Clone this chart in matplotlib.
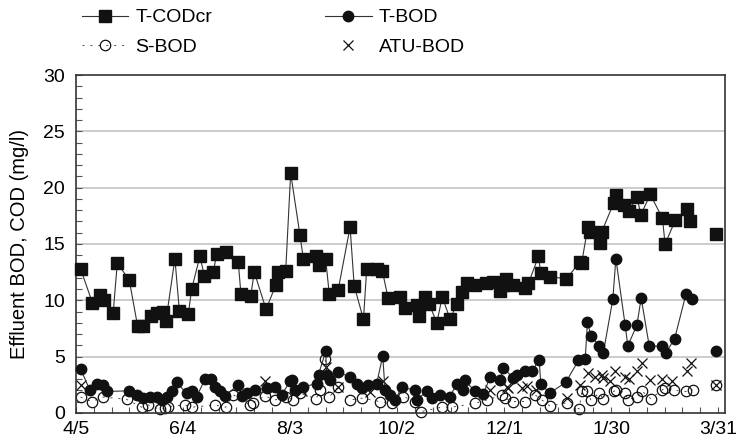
import numpy as np
from matplotlib import pyplot as plt
from matplotlib.ticker import MultipleLocator

plt.rcParams['font.family'] = ['Liberation Sans', 'DejaVu Sans']
plt.rcParams['font.size'] = 14

nan = np.nan

# x values are days counted from 4/5
tick_days = [0, 60, 120, 180, 240, 300, 360]
tick_labels = ['4/5', '6/4', '8/3', '10/2', '12/1', '1/30', '3/31']

# T-CODcr
cod_days = [2.6, 9.2, 13.5, 15.9, 20.9, 23.2, 29.9, 34.6, 37.8, 41.9, 45.2, 49, 50.5, 55.5, 58,
            63, 64.9, 69.5, 72, 77, 78.9, 84, 91, 92.5, 98, 100, 106.6, 112.2, 113.5, 117.6,
            120.4, 125.6, 127.5, 134.6, 136.5, 140, 142, 147, 153.7, 156, 161.2, 163, 168.6, 171.8, 175,
            181.7, 184.5, 191, 192.6, 195.7, 198, 202.3, 205.4, 209.8, 213.5, 216.7, 219, 223.8, 230, 234,
            237.8, 239.7, 241, 245, 251.8, 253.7, 259.3, 260.6, 265.8, 274.8, 282.7, 283.5, 287, 288.3, 293.9,
            294.8, 301.4, 302.7, 307.4, 309.8, 314.5, 316.7, 322, 328.8, 330.3, 336, 342.8, 344.4, 350, 359]
cod_vals = [12.8, 9.8, 10.5, 10.0, 8.9, 13.3, 11.8, 7.7, 7.7, 8.6, 8.9, 9.0, 8.2, 13.7, 9.05,
            8.75, 11.0, 13.9, 12.2, 12.5, 14.1, 14.3, 13.4, 10.6, 10.4, 12.5, 9.2, 11.4, 12.5, 12.6,
            21.3, 15.8, 13.7, 13.9, 13.1, 13.7, 10.6, 10.9, 16.5, 11.3, 8.3, 12.75, 12.75, 12.6, 10.2,
            10.3, 9.35, 9.6, 8.6, 10.3, 9.7, 8.0, 10.3, 8.3, 9.7, 10.7, 11.5, 11.4, 11.5, 11.65,
            10.8, 11.4, 11.9, 11.4, 11.1, 11.5, 13.9, 12.45, 12.1, 11.9, 13.4, 13.3, 16.5, 16.1, 15.1,
            16.1, 18.6, 19.35, 18.5, 17.9, 19.2, 17.6, 19.4, 17.3, 15.0, 17.1, 18.1, 17.0, nan, 15.9]

# T-BOD
tbod_days = [2.6, 7.9, 12, 15.3, 17.2, 29.7, 34, 37.8, 41.5, 45.2, 48, 50.9, 53.7, 56.5, 62,
             64.9, 67.7, 72.4, 76, 78, 80.8, 83.6, 91, 93, 95.7, 100.4, 107, 111.6, 115.4, 120,
             121, 122.8, 127.5, 135, 136, 140, 140.6, 142.5, 147, 153.7, 157.4, 160.2, 164, 168.6, 172,
             173.3, 176, 179, 182.7, 190, 191, 196.7, 199.5, 204.2, 209.8, 213.5, 217.2, 218, 223.8, 228.4,
             232.2, 237.8, 239.7, 245, 247, 251.8, 255.6, 259.7, 260.6, 265.5, 274.6, 281.7, 285.5, 286.8, 288.7,
             293.5, 295.7, 301, 302.7, 307.9, 309.4, 314.5, 316.9, 321.4, 328.5, 330.7, 335.6, 342, 345.3, 350, 359]
tbod_vals = [3.9, 2.0, 2.6, 2.5, 1.9, 1.95, 1.6, 1.3, 1.45, 1.4, 1.15, 1.45, 1.9, 2.7, 1.75,
             1.9, 1.45, 3.0, 3.0, 2.3, 1.9, 1.5, 2.5, 1.5, 1.75, 2.05, 2.2, 2.3, 1.6, 2.8,
             2.9, 2.05, 2.3, 2.6, 3.4, 5.45, 3.4, 2.9, 3.6, 3.2, 2.6, 2.2, 2.5, 2.6, 5.05,
             2.05, 1.6, 1.15, 2.3, 2.0, 1.15, 1.9, 1.3, 1.6, 1.45, 2.6, 2.05, 2.9, 1.9, 1.7,
             3.15, 2.9, 4.0, 3.1, 3.4, 3.7, 3.7, 4.7, 2.6, 1.75, 2.7, 4.65, 4.75, 8.1, 6.8,
             5.95, 5.35, 10.1, 13.7, 7.8, 5.95, 7.8, 10.2, 5.95, 5.9, 5.35, 6.55, 10.55, 10.1, nan, 5.45]

# S-BOD
sbod_days = [2.6, 8.8, 15.3, 28.4, 36.8, 40.6, 47, 50, 51.8, 61, 64.9, 78, 84, 88.2, 97.6,
             99, 106, 111.6, 118, 121.9, 125.6, 134.6, 137, 139.7, 142, 147, 153.7, 160.2, 170.5, 177,
             183.6, 190, 193.3, 205, 210.7, 223.8, 230.4, 238.8, 240.5, 245.3, 251.8, 257.4, 261.2, 265.8, 275.2,
             282.1, 283.6, 286.4, 288.7, 293.5, 295.7, 301.4, 303, 307.9, 309.4, 314.5, 317.3, 322.3, 328.8, 330.3,
             335.4, 342, 345.7, 350, 359]
sbod_vals = [1.4, 1.0, 1.4, 1.2, 0.5, 0.7, 0.3, 0.4, 0.55, 0.7, 0.5, 0.7, 0.5, 1.6, 0.7,
             0.9, 1.5, 1.15, 1.4, 1.15, 1.75, 1.25, 2.0, 4.75, 1.4, 2.3, 1.15, 1.3, 1.0, 0.85,
             1.45, 1.0, 0.1, 0.5, 0.5, 0.85, 1.15, 1.55, 1.3, 1.0, 1.0, 1.6, 1.15, 0.6, 0.9,
             0.35, 1.9, 1.9, 1.15, 1.75, 1.25, 1.9, 2.0, 1.8, 1.15, 1.45, 1.95, 1.25, 2.05, 2.2,
             2.0, 1.9, 2.05, nan, 2.5]

# ATU-BOD
atu_days = [2.6, 106, 127, 140, 147, 165, 172.4, 232, 241.5, 242.5, 250, 252.8, 258, 275.2, 282.7,
            287.3, 291, 294.8, 295.7, 299.5, 302.3, 307.9, 309.8, 314.5, 317.3, 322, 328.8, 334.4, 342.5, 344.9, 359]
atu_vals = [2.5, 2.8, 1.9, 4.1, 2.3, 1.85, 2.8, 2.05, 2.3, 2.2, 2.2, 2.35, 2.05, 1.3, 2.5,
            3.5, 3.2, 3.4, 3.1, 2.8, 3.7, 3.15, 3.0, 3.7, 4.45, 2.95, 3.0, 2.8, 3.7, 4.4, 2.45]

fig = plt.figure(figsize=(7.37, 4.42), dpi=100)
ax = fig.add_axes([0.103, 0.066, 0.881, 0.764])

line_c = '#333333'
mk_c = '#111111'

# horizontal grid
for g in [5, 10, 15, 20, 25]:
    ax.axhline(g, color='#c8c8c8', lw=1.3, zorder=0)

h_sbod, = ax.plot(sbod_days, sbod_vals, ls=(0, (2.5, 7)), lw=0.6, color=line_c,
                  marker='o', ms=7.5, mfc='none', mec=mk_c, mew=0.9, clip_on=False, zorder=2)
h_atu, = ax.plot(atu_days, atu_vals, ls='none', marker='x', ms=6.5, mec=mk_c, mew=0.9,
                 clip_on=False, zorder=2)
h_tbod, = ax.plot(tbod_days, tbod_vals, '-', lw=0.8, color=line_c,
                  marker='o', ms=7.5, mfc=mk_c, mec=mk_c, clip_on=False, zorder=3)
h_cod, = ax.plot(cod_days, cod_vals, '-', lw=0.8, color=line_c,
                 marker='s', ms=9, mfc=mk_c, mec=mk_c, clip_on=False, zorder=4)

ax.set_xlim(0, 364)
ax.set_ylim(0, 30)
ax.set_xticks(tick_days)
ax.set_xticklabels(tick_labels)
ax.xaxis.set_minor_locator(MultipleLocator(10))
ax.yaxis.set_major_locator(MultipleLocator(5))
ax.yaxis.set_minor_locator(MultipleLocator(1))
ax.tick_params(which='both', direction='in', length=4, width=0.8, color='#555555')
ax.tick_params(axis='x', which='major', pad=6)
ax.tick_params(axis='y', which='major', pad=8)
ax.tick_params(axis='x', which='both', top=False)
ax.tick_params(axis='y', which='both', right=False)
for s in ax.spines.values():
    s.set_linewidth(1.2)
    s.set_color('#333333')

ax.set_ylabel('Effluent BOD, COD (mg/l)', fontsize=14.5, labelpad=10)

fig.legend([h_cod, h_sbod, h_tbod, h_atu], ['T-CODcr', 'S-BOD', 'T-BOD', 'ATU-BOD'],
           ncol=2, loc='upper left', bbox_to_anchor=(0.111, 0.98), frameon=False,
           handlelength=2.4, handletextpad=0.36, columnspacing=5.8, labelspacing=0.6,
           borderpad=0, borderaxespad=0)

fig.savefig('out.png', dpi=100)
